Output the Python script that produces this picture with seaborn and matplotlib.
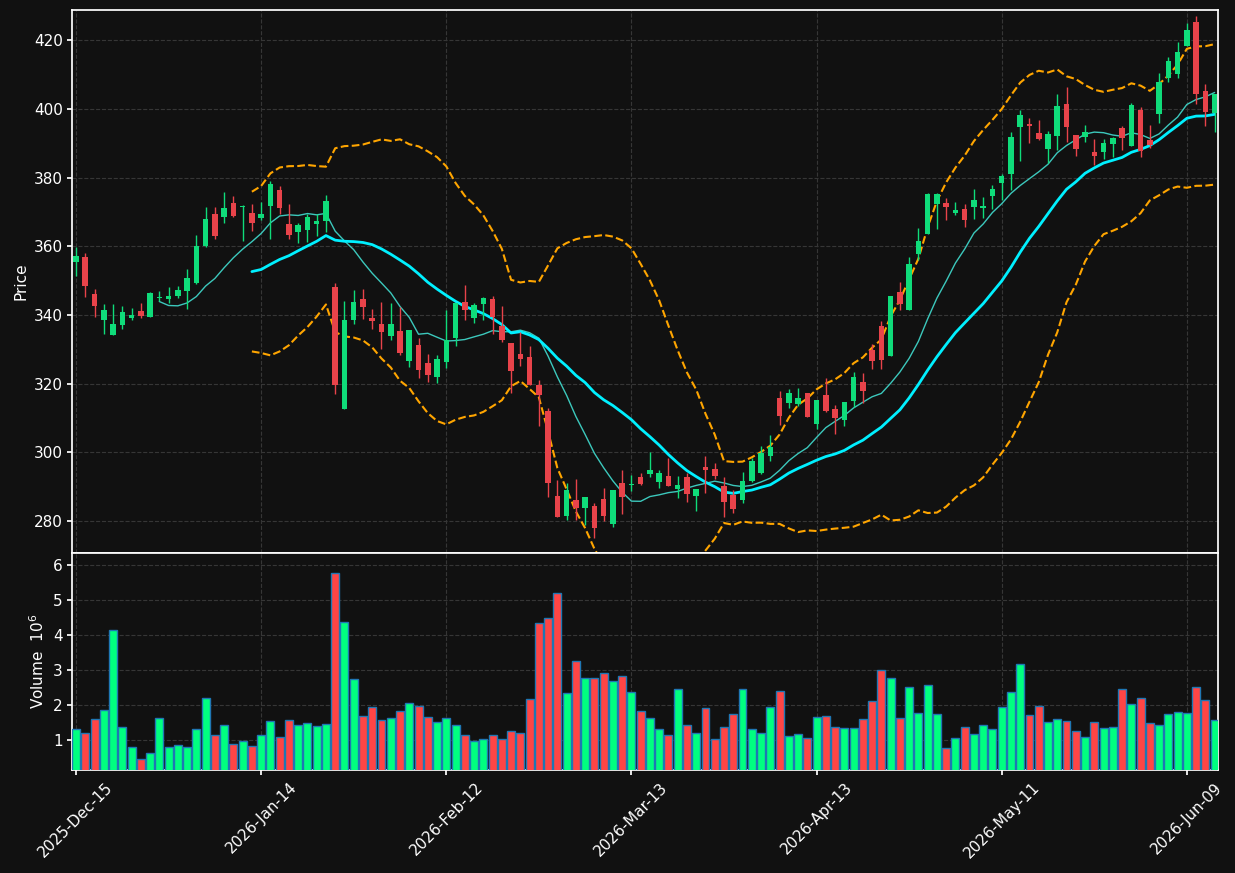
import numpy as np
import pandas as pd
import matplotlib
matplotlib.use("Agg")
import matplotlib.pyplot as plt
import seaborn as sns

# daily OHLC (price) and volume (millions), 124 trading sessions
opens = [355.3, 356.8, 346.1, 338.6, 334.3, 337.2, 339.25, 341.2, 339.5, 344.9,
         344.7, 345.6, 347.0, 349.3, 360.1, 369.4, 368.4, 372.7, 371.4, 369.8,
         368.3, 371.6, 376.4, 366.5, 364.2, 364.8, 366.5, 367.4, 348.2, 312.5,
         338.6, 344.7, 339.15, 337.4, 333.9, 335.4, 326.7, 331.3, 326.05, 321.8,
         326.4, 333.3, 343.8, 339.25, 343.3, 344.7, 336.8, 331.9, 328.7, 327.7,
         319.65, 312.1, 287.3, 281.5, 286.2, 283.65, 284.4, 286.4, 279.2, 291.2,
         290.4, 292.7, 293.7, 291.5, 293.2, 289.4, 292.8, 287.3, 295.7, 295.2,
         290.25, 287.6, 286.0, 291.7, 294.0, 299.0, 315.9, 314.5, 314.2, 317.3,
         308.3, 316.7, 312.6, 309.55, 314.8, 320.4, 329.8, 336.8, 328.1, 346.7,
         341.5, 357.8, 363.6, 372.25, 372.6, 369.8, 370.9, 371.5, 371.1, 374.7,
         378.4, 380.9, 394.7, 395.7, 393.0, 388.45, 392.2, 401.45, 392.3, 391.9,
         387.5, 387.3, 389.9, 394.5, 389.2, 399.7, 391.0, 398.55, 408.9, 410.1,
         418.3, 425.3, 405.2, 398.7]
highs = [359.9, 358.0, 347.5, 343.1, 343.1, 342.6, 342.0, 343.4, 346.7, 346.9,
         348.2, 348.5, 353.4, 363.2, 371.4, 371.4, 375.7, 374.7, 371.9, 372.3,
         372.8, 379.1, 377.6, 372.2, 366.7, 369.3, 369.3, 374.9, 349.4, 344.0,
         347.3, 347.5, 341.7, 343.7, 343.4, 342.3, 335.7, 333.4, 328.6, 328.2,
         341.4, 343.6, 348.7, 343.5, 345.2, 345.5, 342.55, 331.9, 335.1, 331.0,
         321.1, 313.05, 291.9, 291.0, 292.2, 286.95, 285.2, 289.6, 288.9, 294.9,
         293.3, 293.9, 300.15, 294.9, 298.3, 293.0, 293.9, 289.3, 298.8, 296.85,
         292.8, 288.9, 294.2, 298.3, 301.7, 305.0, 317.8, 318.5, 318.7, 317.3,
         315.1, 321.6, 313.7, 314.7, 323.3, 323.05, 331.6, 338.2, 345.65, 349.6,
         356.8, 365.3, 375.45, 375.5, 374.0, 372.8, 372.25, 376.6, 374.3, 377.8,
         380.9, 393.3, 399.7, 397.3, 396.8, 393.5, 404.3, 406.5, 392.3, 395.2,
         391.2, 391.2, 391.9, 394.9, 401.8, 400.4, 395.2, 410.4, 415.0, 419.4,
         424.9, 427.1, 407.1, 404.4]
lows = [351.4, 345.2, 339.5, 334.4, 334.3, 335.9, 338.4, 339.25, 339.5, 344.0,
        343.4, 344.9, 341.7, 348.9, 359.7, 362.25, 366.9, 368.5, 361.4, 364.3,
        367.5, 362.05, 369.3, 362.25, 360.9, 361.2, 363.0, 364.2, 317.1, 312.5,
        337.4, 338.7, 335.85, 330.2, 332.65, 328.2, 324.8, 321.6, 320.6, 320.1,
        324.5, 331.1, 338.6, 337.6, 338.4, 334.4, 332.0, 317.4, 325.0, 319.65,
        307.8, 287.1, 281.1, 280.35, 280.35, 278.9, 275.0, 279.9, 278.2, 282.0,
        288.6, 290.6, 292.8, 289.6, 290.05, 286.7, 285.4, 282.8, 288.3, 292.2,
        281.3, 282.3, 285.2, 291.5, 293.75, 297.6, 307.9, 312.9, 313.35, 310.4,
        306.7, 311.6, 305.4, 307.8, 313.3, 314.3, 324.2, 324.2, 328.1, 341.3,
        341.5, 356.0, 363.6, 365.0, 367.5, 369.0, 365.55, 367.8, 368.2, 370.8,
        373.5, 376.4, 384.9, 390.0, 391.0, 384.2, 388.1, 390.5, 386.3, 390.5,
        383.6, 385.35, 386.1, 388.1, 389.2, 386.1, 388.7, 395.8, 407.7, 408.9,
        418.3, 401.45, 395.15, 393.4]
closes = [357.2, 348.3, 342.5, 341.5, 337.4, 340.9, 340.0, 339.8, 346.4, 345.1,
          345.65, 347.3, 350.9, 360.1, 368.0, 363.0, 371.2, 368.85, 371.5, 366.9,
          369.4, 378.2, 371.0, 363.4, 366.2, 368.6, 367.4, 373.1, 319.7, 338.6,
          343.8, 342.2, 338.3, 335.1, 337.4, 329.0, 335.7, 324.1, 322.4, 327.2,
          332.65, 343.6, 341.3, 342.9, 345.0, 339.5, 332.6, 323.8, 327.2, 319.65,
          316.7, 291.2, 281.1, 288.9, 283.65, 286.95, 278.1, 281.6, 288.9, 286.85,
          290.6, 290.8, 294.9, 293.9, 290.05, 290.45, 287.9, 289.3, 294.9, 293.2,
          285.4, 283.55, 291.7, 297.5, 299.8, 301.5, 310.7, 317.2, 315.9, 310.4,
          315.1, 312.1, 309.85, 314.7, 321.9, 318.0, 326.7, 326.9, 345.4, 343.2,
          354.9, 361.6, 375.25, 375.25, 371.3, 370.6, 367.5, 373.5, 371.8, 376.6,
          380.5, 391.75, 398.2, 395.15, 391.1, 392.7, 400.9, 394.7, 388.3, 393.2,
          386.4, 390.0, 391.4, 391.6, 401.2, 387.6, 389.5, 407.9, 414.0, 416.6,
          423.0, 404.4, 399.2, 404.4]
volumes = [1.31, 1.20, 1.60, 1.86, 4.14, 1.37, 0.80, 0.46, 0.63, 1.63,
           0.80, 0.86, 0.80, 1.31, 2.20, 1.14, 1.43, 0.89, 0.99, 0.83,
           1.14, 1.54, 1.09, 1.57, 1.43, 1.49, 1.40, 1.46, 5.77, 4.37,
           2.74, 1.69, 1.94, 1.57, 1.63, 1.83, 2.06, 1.97, 1.66, 1.51,
           1.63, 1.43, 1.14, 0.97, 1.03, 1.14, 1.03, 1.26, 1.20, 2.17,
           4.34, 4.49, 5.20, 2.34, 3.26, 2.77, 2.77, 2.91, 2.69, 2.83,
           2.37, 1.83, 1.63, 1.31, 1.14, 2.46, 1.43, 1.20, 1.91, 1.03,
           1.37, 1.74, 2.46, 1.31, 1.20, 1.94, 2.40, 1.11, 1.17, 1.06,
           1.66, 1.69, 1.37, 1.34, 1.34, 1.60, 2.11, 3.00, 2.77, 1.63,
           2.51, 1.77, 2.57, 1.74, 0.77, 1.06, 1.37, 1.17, 1.43, 1.31,
           1.94, 2.37, 3.17, 1.71, 1.97, 1.51, 1.60, 1.54, 1.26, 1.09,
           1.51, 1.34, 1.37, 2.46, 2.03, 2.20, 1.49, 1.43, 1.74, 1.80,
           1.77, 2.51, 2.14, 1.57]
tick_labels = ["2025-Dec-15", "2026-Jan-14", "2026-Feb-12", "2026-Mar-13",
               "2026-Apr-13", "2026-May-11", "2026-Jun-09"]

df = pd.DataFrame({"open": opens, "high": highs, "low": lows,
                   "close": closes, "volume": volumes})
df["idx"] = np.arange(len(df))
df["ma10"] = df["close"].rolling(10).mean()
df["ma20"] = df["close"].rolling(20).mean()
std20 = df["close"].rolling(20).std(ddof=0)
df["bb_up"] = df["ma20"] + 2 * std20
df["bb_lo"] = df["ma20"] - 2 * std20

sns.set_theme(style="dark", rc={
    "figure.facecolor": "#111111", "axes.facecolor": "#111111",
    "savefig.facecolor": "#111111", "axes.edgecolor": "white",
    "text.color": "white", "axes.labelcolor": "white",
    "xtick.color": "white", "ytick.color": "white",
    "xtick.bottom": True, "ytick.left": True,
    "xtick.major.size": 3.5, "ytick.major.size": 3.5,
    "axes.grid": True, "grid.color": "#363636",
    "grid.linestyle": "--", "grid.linewidth": 0.8,
})
plt.rcParams["font.family"] = ["DejaVu Sans"]

candle_up, candle_down = "#0fdc7a", "#e8434a"
vol_up, vol_down = "#00ff80", "#ff4545"
up = df["close"] >= df["open"]

fig = plt.figure(figsize=(12.35, 8.73), dpi=100)
axPrice = fig.add_axes([0.0587, 0.3666, 0.9278, 0.6216])
axVol = fig.add_axes([0.0587, 0.118, 0.9278, 0.2486], sharex=axPrice)

# moving averages and bands sit under the candles
sns.lineplot(x=df["idx"].values, y=df["ma10"].values, ax=axPrice, color="#3cc8bc",
             linewidth=1, legend=False, zorder=1.5)
sns.lineplot(x=df["idx"].values, y=df["ma20"].values, ax=axPrice, color="#00f0ff",
             linewidth=2, legend=False, zorder=1.5)
for col in ["bb_up", "bb_lo"]:
    sns.lineplot(x=df["idx"].values, y=df[col].values, ax=axPrice, color="#ffa500",
                 linewidth=1.5, linestyle="--", legend=False, zorder=1.5)

# candles
cc = np.where(up, candle_up, candle_down)
axPrice.vlines(df["idx"], df["low"], df["high"], colors=cc, linewidth=1, zorder=2)
body = (df["close"] - df["open"]).abs().clip(lower=0.3)
axPrice.bar(df["idx"], body, bottom=df[["open", "close"]].min(axis=1),
            width=0.6, color=cc, linewidth=0, zorder=3)

axPrice.set_ylim(270.7, 428.7)
axPrice.set_yticks(range(280, 421, 20))
axPrice.set_ylabel("Price", fontsize=11)
axPrice.tick_params(labelbottom=False, bottom=False, labelsize=11)

# volume
vc = np.where(up, vol_up, vol_down)
axVol.bar(df["idx"], df["volume"], width=0.86, color=vc, edgecolor="#1f77b4",
          linewidth=1, zorder=3)
axVol.set_ylim(0.15, 6.35)
axVol.set_yticks(range(1, 7))
axVol.set_ylabel("Volume  $10^{6}$", fontsize=11)
axVol.set_xlim(-0.38, 123.4)
axVol.set_xticks(range(0, len(df), 20))
axVol.set_xticklabels(tick_labels, rotation=45, ha="center", fontsize=11)
axVol.tick_params(labelsize=11)

for ax in (axPrice, axVol):
    ax.grid(True, axis="both")
    for s in ax.spines.values():
        s.set_color("white")

fig.savefig("out.png", dpi=100)
